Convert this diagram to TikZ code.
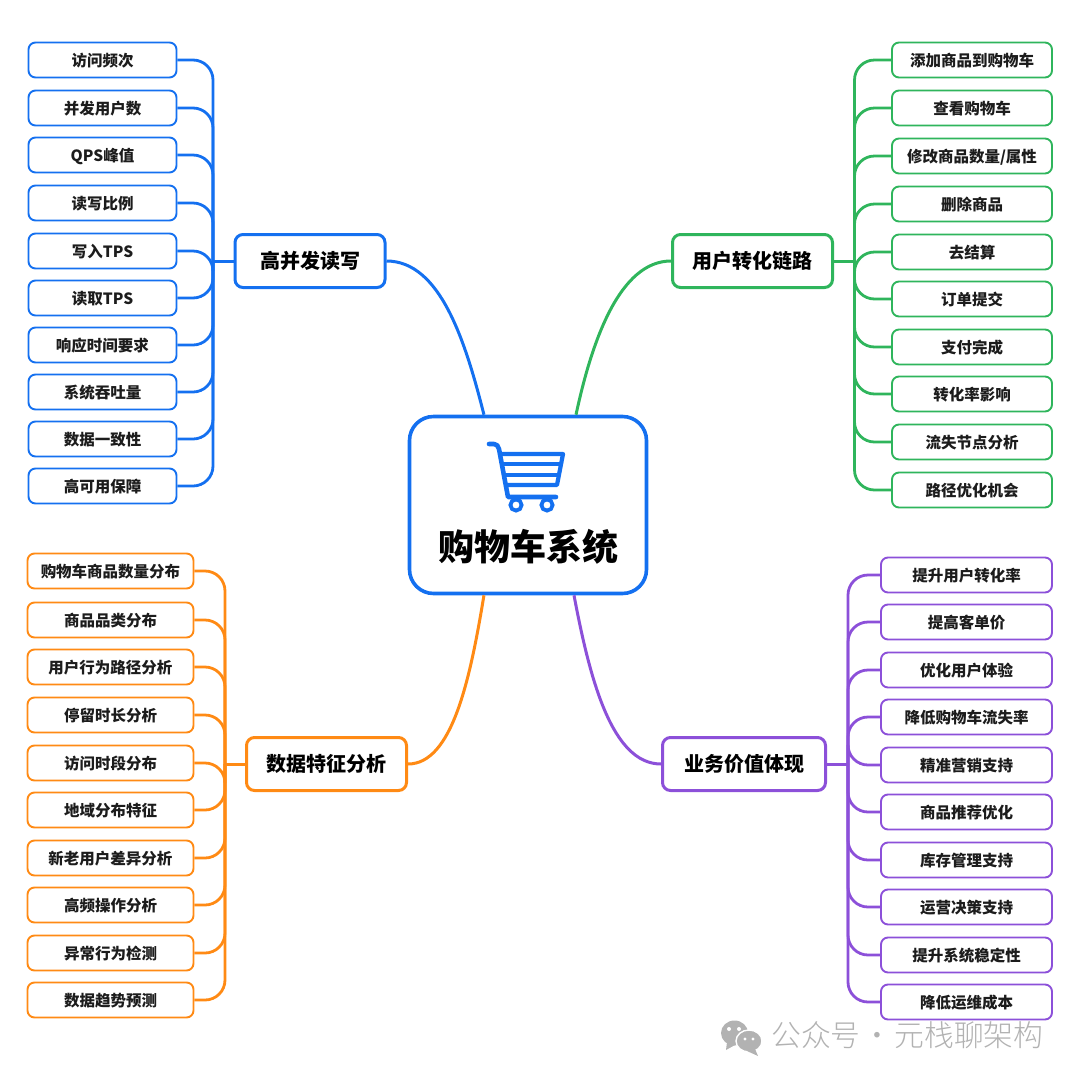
\documentclass[tikz,border=0pt]{standalone}
\usepackage{fontspec}
\setmainfont{Noto Sans CJK SC}
\newfontfamily\cjklight{Noto Sans CJK SC Light}
\definecolor{cblue}{HTML}{1470F0}
\definecolor{cgreen}{HTML}{2FB55C}
\definecolor{corange}{HTML}{FF8A14}
\definecolor{cpurple}{HTML}{8C50D9}
\definecolor{cmark}{HTML}{B2B2B2}
\definecolor{cink}{HTML}{1C1C1C}
\tikzset{
  leaf/.style={draw=#1,fill=white,rounded corners=7pt,line width=1.9pt,minimum height=35pt,inner sep=0pt,text=cink,text height=15pt,text depth=2pt,font=\bfseries\fontsize{15.5}{15.5}\selectfont},
  topic/.style={draw=#1,fill=white,rounded corners=8pt,line width=3pt,minimum height=53pt,inner sep=0pt,text height=17pt,text depth=1.6pt,font=\bfseries\fontsize{20}{20}\selectfont},
  twig/.style={draw=#1,line width=2.8pt,rounded corners=20pt},
  limb/.style={draw=#1,line width=3pt},
}
\begin{document}
\begin{tikzpicture}[x=1pt,y=-1pt]
\useasboundingbox (0,0) rectangle (1080,1080);
% centre
\node[draw=cblue,fill=white,rounded corners=24pt,line width=3.6pt,minimum width=237pt,minimum height=177pt] (root) at (528,505) {};
\node[font=\bfseries\fontsize{36}{36}\selectfont] (title) at (528,547) {购物车系统};
\path[draw=cblue,line width=4.6pt,line cap=round,line join=round] (489,444) -- (494,444) .. controls (497,444) and (498,446) .. (499,449) -- (508,497) -- (556,497);
\path[draw=cblue,line width=4.2pt,line join=round] (498,454) -- (563,454) -- (557,485) -- (506,485);
\path[draw=cblue,line width=4.2pt] (501,464) -- (561,464);
\path[draw=cblue,line width=4.2pt] (503,475) -- (559,475);
\path[draw=cblue,line width=3.8pt] (516,505) circle (5.6);
\path[draw=cblue,line width=3.8pt] (547,505) circle (5.6);

% topics
\node[topic=cblue,minimum width=150pt] (b) at (310,261) {高并发读写};
\node[topic=cgreen,minimum width=160pt] (g) at (752.5,261) {用户转化链路};
\node[topic=corange,minimum width=160pt] (o) at (326.5,764) {数据特征分析};
\node[topic=cpurple,minimum width=163pt] (p) at (744,764) {业务价值体现};
\coordinate (bh) at (213,261);
\coordinate (gh) at (854.5,261);
\coordinate (oh) at (225,764);
\coordinate (ph) at (848,764);

% blue leaves
\node[leaf=cblue,minimum width=148pt] (b1) at (102.5,60) {访问频次};
\node[leaf=cblue,minimum width=148pt] (b2) at (102.5,108) {并发用户数};
\node[leaf=cblue,minimum width=148pt] (b3) at (102.5,155) {QPS峰值};
\node[leaf=cblue,minimum width=148pt] (b4) at (102.5,203) {读写比例};
\node[leaf=cblue,minimum width=148pt] (b5) at (102.5,251) {写入TPS};
\node[leaf=cblue,minimum width=148pt] (b6) at (102.5,298) {读取TPS};
\node[leaf=cblue,minimum width=148pt] (b7) at (102.5,345) {响应时间要求};
\node[leaf=cblue,minimum width=148pt] (b8) at (102.5,392) {系统吞吐量};
\node[leaf=cblue,minimum width=148pt] (b9) at (102.5,439) {数据一致性};
\node[leaf=cblue,minimum width=148pt] (b10) at (102.5,486) {高可用保障};

% green leaves
\node[leaf=cgreen,minimum width=160pt] (g1) at (972,60) {添加商品到购物车};
\node[leaf=cgreen,minimum width=160pt] (g2) at (972,108) {查看购物车};
\node[leaf=cgreen,minimum width=160pt] (g3) at (972,156) {修改商品数量/属性};
\node[leaf=cgreen,minimum width=160pt] (g4) at (972,204) {删除商品};
\node[leaf=cgreen,minimum width=160pt] (g5) at (972,252) {去结算};
\node[leaf=cgreen,minimum width=160pt] (g6) at (972,299) {订单提交};
\node[leaf=cgreen,minimum width=160pt] (g7) at (972,347) {支付完成};
\node[leaf=cgreen,minimum width=160pt] (g8) at (972,394) {转化率影响};
\node[leaf=cgreen,minimum width=160pt] (g9) at (972,442) {流失节点分析};
\node[leaf=cgreen,minimum width=160pt] (g10) at (972,490) {路径优化机会};

% orange leaves
\node[leaf=corange,minimum width=166pt] (o1) at (110.5,571) {购物车商品数量分布};
\node[leaf=corange,minimum width=166pt] (o2) at (110.5,620) {商品品类分布};
\node[leaf=corange,minimum width=166pt] (o3) at (110.5,667) {用户行为路径分析};
\node[leaf=corange,minimum width=166pt] (o4) at (110.5,715) {停留时长分析};
\node[leaf=corange,minimum width=166pt] (o5) at (110.5,763) {访问时段分布};
\node[leaf=corange,minimum width=166pt] (o6) at (110.5,810) {地域分布特征};
\node[leaf=corange,minimum width=166pt] (o7) at (110.5,858) {新老用户差异分析};
\node[leaf=corange,minimum width=166pt] (o8) at (110.5,905) {高频操作分析};
\node[leaf=corange,minimum width=166pt] (o9) at (110.5,953) {异常行为检测};
\node[leaf=corange,minimum width=166pt] (o10) at (110.5,1000) {数据趋势预测};

% purple leaves
\node[leaf=cpurple,minimum width=171pt] (p1) at (966.5,575) {提升用户转化率};
\node[leaf=cpurple,minimum width=171pt] (p2) at (966.5,622) {提高客单价};
\node[leaf=cpurple,minimum width=171pt] (p3) at (966.5,670) {优化用户体验};
\node[leaf=cpurple,minimum width=171pt] (p4) at (966.5,717) {降低购物车流失率};
\node[leaf=cpurple,minimum width=171pt] (p5) at (966.5,765) {精准营销支持};
\node[leaf=cpurple,minimum width=171pt] (p6) at (966.5,812) {商品推荐优化};
\node[leaf=cpurple,minimum width=171pt] (p7) at (966.5,860) {库存管理支持};
\node[leaf=cpurple,minimum width=171pt] (p8) at (966.5,907) {运营决策支持};
\node[leaf=cpurple,minimum width=171pt] (p9) at (966.5,955) {提升系统稳定性};
\node[leaf=cpurple,minimum width=171pt] (p10) at (966.5,1002) {降低运维成本};

% centre to topics
\path[limb=cblue] (b.east) .. controls (440,261) and (465,340) .. (root.116);
\path[limb=cgreen] (g.west) .. controls (620,261) and (592,340) .. (root.62);
\path[limb=corange] (o.east) .. controls (452,764) and (470,680) .. (root.244);
\path[limb=cpurple] (p.west) .. controls (612,764) and (590,680) .. (root.297);
\path[limb=cblue] (b.west) -- (bh);
\path[limb=cgreen] (g.east) -- (gh);
\path[limb=corange] (o.west) -- (oh);
\path[limb=cpurple] (p.east) -- (ph);

% twigs
\path[twig=cblue] (b1.east) -| (bh);
\path[twig=cblue] (b2.east) -| (bh);
\path[twig=cblue] (b3.east) -| (bh);
\path[twig=cblue] (b4.east) -| (bh);
\path[twig=cblue] (b5.east) -| (bh);
\path[twig=cblue] (b6.east) -| (bh);
\path[twig=cblue] (b7.east) -| (bh);
\path[twig=cblue] (b8.east) -| (bh);
\path[twig=cblue] (b9.east) -| (bh);
\path[twig=cblue] (b10.east) -| (bh);
\path[twig=cgreen] (g1.west) -| (gh);
\path[twig=cgreen] (g2.west) -| (gh);
\path[twig=cgreen] (g3.west) -| (gh);
\path[twig=cgreen] (g4.west) -| (gh);
\path[twig=cgreen] (g5.west) -| (gh);
\path[twig=cgreen] (g6.west) -| (gh);
\path[twig=cgreen] (g7.west) -| (gh);
\path[twig=cgreen] (g8.west) -| (gh);
\path[twig=cgreen] (g9.west) -| (gh);
\path[twig=cgreen] (g10.west) -| (gh);
\path[twig=corange] (o1.east) -| (oh);
\path[twig=corange] (o2.east) -| (oh);
\path[twig=corange] (o3.east) -| (oh);
\path[twig=corange] (o4.east) -| (oh);
\path[twig=corange] (o5.east) -| (oh);
\path[twig=corange] (o6.east) -| (oh);
\path[twig=corange] (o7.east) -| (oh);
\path[twig=corange] (o8.east) -| (oh);
\path[twig=corange] (o9.east) -| (oh);
\path[twig=corange] (o10.east) -| (oh);
\path[twig=cpurple] (p1.west) -| (ph);
\path[twig=cpurple] (p2.west) -| (ph);
\path[twig=cpurple] (p3.west) -| (ph);
\path[twig=cpurple] (p4.west) -| (ph);
\path[twig=cpurple] (p5.west) -| (ph);
\path[twig=cpurple] (p6.west) -| (ph);
\path[twig=cpurple] (p7.west) -| (ph);
\path[twig=cpurple] (p8.west) -| (ph);
\path[twig=cpurple] (p9.west) -| (ph);
\path[twig=cpurple] (p10.west) -| (ph);

% watermark
\path[fill=cmark] (734.5,1033) ellipse (13.5 and 12.5);
\path[fill=cmark] (727,1042) -- (726,1050) -- (735,1045) -- cycle;
\path[draw=white,line width=1.4pt,fill=cmark] (749,1041) ellipse (13 and 11);
\path[fill=cmark] (755,1049) -- (758,1056) -- (747,1051) -- cycle;
\path[fill=white] (729,1029) circle (2);
\path[fill=white] (739,1029) circle (2);
\path[fill=white] (745,1039) circle (1.6);
\path[fill=white] (753,1039) circle (1.6);
\node[text=cmark,anchor=west,inner sep=0pt,font=\cjklight\fontsize{29.8}{29.8}\selectfont] (mark) at (771,1035) {公众号\hspace{-4.5pt} · \hspace{-4.5pt}元栈聊架构};
\end{tikzpicture}
\end{document}
